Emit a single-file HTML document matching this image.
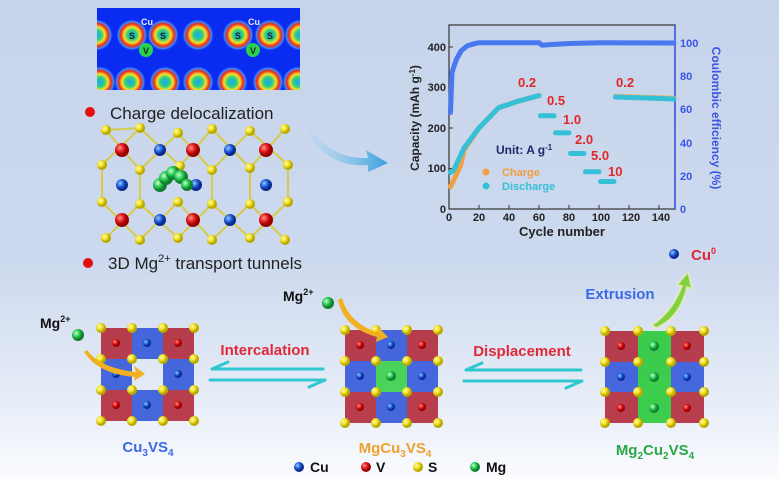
<!DOCTYPE html>
<html><head><meta charset="utf-8"><style>
html,body{margin:0;padding:0}
body{width:779px;height:479px;overflow:hidden;background:linear-gradient(180deg,#c6d4eb 0%,#cdd9ee 55%,#e8eef8 85%,#fbfcfe 100%);font-family:"Liberation Sans",sans-serif}
svg{position:absolute;left:0;top:0}
</style></head><body>
<svg width="779" height="479" viewBox="0 0 779 479" xmlns="http://www.w3.org/2000/svg" font-family="Liberation Sans, sans-serif">
<defs>
<radialGradient id="hot"><stop offset="0" stop-color="#1fa0ff"/><stop offset="0.3" stop-color="#2cd07a"/><stop offset="0.5" stop-color="#f5e02a"/><stop offset="0.7" stop-color="#f02818"/><stop offset="0.85" stop-color="#3a8cff"/><stop offset="1" stop-color="#0a2cf0" stop-opacity="0"/></radialGradient>
<radialGradient id="bY" cx="0.35" cy="0.35"><stop offset="0" stop-color="#fffbb0"/><stop offset="0.6" stop-color="#f2e020"/><stop offset="1" stop-color="#b8a800"/></radialGradient>
<radialGradient id="bR" cx="0.35" cy="0.35"><stop offset="0" stop-color="#ff9090"/><stop offset="0.6" stop-color="#e01818"/><stop offset="1" stop-color="#900"/></radialGradient>
<radialGradient id="bB" cx="0.35" cy="0.35"><stop offset="0" stop-color="#9ac8ff"/><stop offset="0.6" stop-color="#1e5fd8"/><stop offset="1" stop-color="#0a2a90"/></radialGradient>
<radialGradient id="bG" cx="0.35" cy="0.35"><stop offset="0" stop-color="#c8ffd0"/><stop offset="0.6" stop-color="#28c850"/><stop offset="1" stop-color="#108030"/></radialGradient>
<linearGradient id="arr" x1="0" x2="1"><stop offset="0" stop-color="#a8d8f0" stop-opacity="0.3"/><stop offset="1" stop-color="#3a9ee0"/></linearGradient>
<clipPath id="hm"><rect x="97" y="8" width="203" height="82"/></clipPath>
</defs>

<!-- heatmap -->
<g clip-path="url(#hm)">
<rect x="97" y="8" width="203" height="82" fill="#0a2cf0"/>
<g fill="url(#hot)">
<circle cx="97" cy="35" r="16"/><circle cx="132" cy="35" r="16"/><circle cx="163" cy="35" r="16"/><circle cx="198" cy="35" r="16"/><circle cx="238" cy="35" r="16"/><circle cx="270" cy="35" r="16"/><circle cx="300" cy="35" r="16"/>
<circle cx="100" cy="82" r="16"/><circle cx="130" cy="82" r="16"/><circle cx="165" cy="82" r="16"/><circle cx="198" cy="82" r="16"/><circle cx="232" cy="82" r="16"/><circle cx="268" cy="82" r="16"/><circle cx="298" cy="82" r="16"/>
</g>
</g>
<circle cx="146" cy="50" r="7" fill="#2cd050"/><circle cx="253" cy="50" r="7" fill="#2cd050"/>
<g font-size="9" font-weight="bold" fill="#0a2a10" text-anchor="middle">
<text x="132" y="39">S</text><text x="163" y="39">S</text><text x="146" y="54">V</text>
<text x="238" y="39">S</text><text x="270" y="39">S</text><text x="253" y="54">V</text>
</g>
<g font-size="9" font-weight="bold" fill="#e8f0ff" text-anchor="middle"><text x="147" y="25">Cu</text><text x="254" y="25">Cu</text></g>

<circle cx="90" cy="112" r="5" fill="#e41010"/>
<text x="110" y="119" font-size="17" fill="#222">Charge delocalization</text>

<!-- crystal structure -->
<g stroke="#d8c820" stroke-width="2" opacity="0.8" fill="none">
<path d="M106 130 L140 170 L178 133 L212 170 L250 131 L288 165 M106 130 L140 128 M102 165 L140 128 L180 166 L212 129 L250 168 L285 129 M102 202 L140 240 L178 202 L212 240 L250 204 L285 240 M106 238 L140 204 L178 238 L212 204 L250 238 L288 202 M102 165 L102 202 M288 165 L288 202 M140 170 L140 204 M212 170 L212 204 M250 168 L250 204"/>
</g>
<g fill="url(#bY)">
<circle cx="106" cy="130" r="5"/><circle cx="140" cy="128" r="5"/><circle cx="178" cy="133" r="5"/><circle cx="212" cy="129" r="5"/><circle cx="250" cy="131" r="5"/><circle cx="285" cy="129" r="5"/>
<circle cx="102" cy="165" r="5"/><circle cx="140" cy="170" r="5"/><circle cx="180" cy="166" r="5"/><circle cx="212" cy="170" r="5"/><circle cx="250" cy="168" r="5"/><circle cx="288" cy="165" r="5"/>
<circle cx="102" cy="202" r="5"/><circle cx="140" cy="204" r="5"/><circle cx="178" cy="202" r="5"/><circle cx="212" cy="204" r="5"/><circle cx="250" cy="204" r="5"/><circle cx="288" cy="202" r="5"/>
<circle cx="106" cy="238" r="5"/><circle cx="140" cy="240" r="5"/><circle cx="178" cy="238" r="5"/><circle cx="212" cy="240" r="5"/><circle cx="250" cy="238" r="5"/><circle cx="285" cy="240" r="5"/>
</g>
<g fill="url(#bR)"><circle cx="122" cy="150" r="7"/><circle cx="193" cy="150" r="7"/><circle cx="266" cy="150" r="7"/><circle cx="122" cy="220" r="7"/><circle cx="193" cy="220" r="7"/><circle cx="266" cy="220" r="7"/></g>
<g fill="url(#bB)"><circle cx="160" cy="150" r="6"/><circle cx="230" cy="150" r="6"/><circle cx="122" cy="185" r="6"/><circle cx="196" cy="185" r="6"/><circle cx="266" cy="185" r="6"/><circle cx="160" cy="220" r="6"/><circle cx="230" cy="220" r="6"/></g>
<g fill="url(#bG)"><circle cx="160" cy="185" r="7"/><circle cx="166" cy="178" r="7"/><circle cx="173" cy="173" r="7"/><circle cx="181" cy="177" r="7"/><circle cx="187" cy="185" r="6"/></g>

<circle cx="88" cy="263" r="5" fill="#e41010"/>
<text x="108" y="269" font-size="17" fill="#222">3D Mg<tspan font-size="11" dy="-7">2+</tspan><tspan dy="7"> transport tunnels</tspan></text>

<!-- curved arrow -->
<path d="M310 130 Q335 160 368 158 L366 150 L388 163 L368 172 L368 165 Q330 168 308 135 Z" fill="url(#arr)"/>

<!-- chart -->
<g font-weight="bold" font-size="11">
<rect x="449" y="25" width="226" height="184" fill="none" stroke="#333" stroke-width="1.2"/>
<line x1="675" y1="25" x2="675" y2="209" stroke="#3b55e6" stroke-width="1.5"/>
<g stroke="#333" stroke-width="1">
<line x1="449" y1="209" x2="453" y2="209"/><line x1="449" y1="168.5" x2="453" y2="168.5"/><line x1="449" y1="128" x2="453" y2="128"/><line x1="449" y1="87.5" x2="453" y2="87.5"/><line x1="449" y1="47" x2="453" y2="47"/>
<line x1="479" y1="209" x2="479" y2="205"/><line x1="509" y1="209" x2="509" y2="205"/><line x1="539" y1="209" x2="539" y2="205"/><line x1="569" y1="209" x2="569" y2="205"/><line x1="599" y1="209" x2="599" y2="205"/><line x1="629" y1="209" x2="629" y2="205"/><line x1="659" y1="209" x2="659" y2="205"/>
</g>
<g text-anchor="end" fill="#222"><text x="446" y="213">0</text><text x="446" y="172">100</text><text x="446" y="132">200</text><text x="446" y="91">300</text><text x="446" y="51">400</text></g>
<g text-anchor="middle" fill="#222"><text x="449" y="221">0</text><text x="479" y="221">20</text><text x="509" y="221">40</text><text x="539" y="221">60</text><text x="569" y="221">80</text><text x="601" y="221">100</text><text x="631" y="221">120</text><text x="661" y="221">140</text></g>
<g fill="#3b55e6"><text x="680" y="213">0</text><text x="680" y="180">20</text><text x="680" y="147">40</text><text x="680" y="113">60</text><text x="680" y="80">80</text><text x="680" y="47">100</text></g>
<text x="562" y="236" text-anchor="middle" font-size="13" fill="#222">Cycle number</text>
<text transform="translate(419,118) rotate(-90)" text-anchor="middle" font-size="12" fill="#222">Capacity (mAh g<tspan font-size="8" dy="-4">-1</tspan><tspan dy="4">)</tspan></text>
<text transform="translate(712,118) rotate(90)" text-anchor="middle" font-size="12" fill="#3b55e6">Coulombic efficiency (%)</text>
</g>
<g fill="none" stroke-linecap="round" stroke-linejoin="round" stroke-width="5">
<polyline stroke="#4a78f0" points="450.5,112.5 452,72.6 453.5,67.6 456.5,59.3 461,51 467,46 473,44 479,42.7 539,42.7 542,45.2 548,44.8 554,44.4 570,43.5 600,42.7 674,43"/>
<polyline stroke="#f0a040" points="450.5,186.7 453.5,180.6 461,164.4 464,150 479,128 498.5,107.8 516.5,101.7 539,95.6"/>
<polyline stroke="#36c0d8" points="450.5,172.5 453.5,170.5 464,148 479,128 498.5,107.8 516.5,101.7 539,95.6"/>
<polyline stroke="#36c0d8" points="540.5,115.8 554,115.8"/>
<polyline stroke="#36c0d8" points="555.5,132.9 569,132.9"/>
<polyline stroke="#36c0d8" points="570.5,153.5 584,153.5"/>
<polyline stroke="#36c0d8" points="585.5,171.7 599,171.7"/>
<polyline stroke="#36c0d8" points="600.5,181.5 614,181.5"/>
<polyline stroke="#e8b060" stroke-width="4" points="615.5,95.8 674,97.8"/>
<polyline stroke="#36c0d8" points="615.5,97 674,99"/>
</g>
<g font-weight="bold" font-size="13" fill="#e02828">
<text x="518" y="87">0.2</text><text x="547" y="105">0.5</text><text x="563" y="124">1.0</text><text x="575" y="144">2.0</text><text x="591" y="160">5.0</text><text x="608" y="176">10</text><text x="616" y="87">0.2</text>
</g>
<text x="496" y="154" font-weight="bold" font-size="12" fill="#1a2a6a">Unit: A g<tspan font-size="8" dy="-4">-1</tspan></text>
<circle cx="486" cy="172" r="3.5" fill="#f0a040"/><text x="502" y="176" font-weight="bold" font-size="11" fill="#f0a040">Charge</text>
<circle cx="486" cy="186" r="3.5" fill="#36c0d8"/><text x="502" y="190" font-weight="bold" font-size="11" fill="#36c0d8">Discharge</text>

<!-- bottom: squares -->
<g opacity="0.85">
<rect x="101" y="328" width="31" height="31" fill="#b02030"/><rect x="132" y="328" width="31" height="31" fill="#2a50d8"/><rect x="163" y="328" width="31" height="31" fill="#b02030"/>
<rect x="101" y="359" width="31" height="31" fill="#2a50d8"/><rect x="163" y="359" width="31" height="31" fill="#2a50d8"/>
<rect x="101" y="390" width="31" height="31" fill="#b02030"/><rect x="132" y="390" width="31" height="31" fill="#2a50d8"/><rect x="163" y="390" width="31" height="31" fill="#b02030"/>

<rect x="345" y="330" width="31" height="31" fill="#b02030"/><rect x="376" y="330" width="31" height="31" fill="#2a50d8"/><rect x="407" y="330" width="31" height="31" fill="#b02030"/>
<rect x="345" y="361" width="31" height="31" fill="#2a50d8"/><rect x="376" y="361" width="31" height="31" fill="#30d040"/><rect x="407" y="361" width="31" height="31" fill="#2a50d8"/>
<rect x="345" y="392" width="31" height="31" fill="#b02030"/><rect x="376" y="392" width="31" height="31" fill="#2a50d8"/><rect x="407" y="392" width="31" height="31" fill="#b02030"/>

<rect x="605" y="331" width="33" height="31" fill="#b02030"/><rect x="638" y="331" width="33" height="92" fill="#20c830"/><rect x="671" y="331" width="33" height="31" fill="#b02030"/>
<rect x="605" y="362" width="33" height="30" fill="#2a50d8"/><rect x="671" y="362" width="33" height="30" fill="#2a50d8"/>
<rect x="605" y="392" width="33" height="31" fill="#b02030"/><rect x="671" y="392" width="33" height="31" fill="#b02030"/>
</g>
<g fill="url(#bR)"><circle cx="116" cy="343" r="4"/><circle cx="178" cy="343" r="4"/><circle cx="116" cy="405" r="4"/><circle cx="178" cy="405" r="4"/>
<circle cx="360" cy="345" r="4"/><circle cx="422" cy="345" r="4"/><circle cx="360" cy="407" r="4"/><circle cx="422" cy="407" r="4"/>
<circle cx="621" cy="346" r="4"/><circle cx="687" cy="346" r="4"/><circle cx="621" cy="408" r="4"/><circle cx="687" cy="408" r="4"/></g>
<g fill="url(#bB)"><circle cx="147" cy="343" r="4"/><circle cx="116" cy="374" r="4"/><circle cx="178" cy="374" r="4"/><circle cx="147" cy="405" r="4"/>
<circle cx="391" cy="345" r="4"/><circle cx="360" cy="376" r="4"/><circle cx="422" cy="376" r="4"/><circle cx="391" cy="407" r="4"/>
<circle cx="621" cy="377" r="4"/><circle cx="687" cy="377" r="4"/></g>
<g fill="url(#bG)"><circle cx="391" cy="376" r="5"/><circle cx="654" cy="346" r="5"/><circle cx="654" cy="377" r="5"/><circle cx="654" cy="408" r="5"/></g>
<g fill="url(#bY)">
<circle cx="101" cy="328" r="5"/><circle cx="132" cy="328" r="5"/><circle cx="163" cy="328" r="5"/><circle cx="194" cy="328" r="5"/>
<circle cx="101" cy="359" r="5"/><circle cx="132" cy="359" r="5"/><circle cx="163" cy="359" r="5"/><circle cx="194" cy="359" r="5"/>
<circle cx="101" cy="390" r="5"/><circle cx="132" cy="390" r="5"/><circle cx="163" cy="390" r="5"/><circle cx="194" cy="390" r="5"/>
<circle cx="101" cy="421" r="5"/><circle cx="132" cy="421" r="5"/><circle cx="163" cy="421" r="5"/><circle cx="194" cy="421" r="5"/>
<circle cx="345" cy="330" r="5"/><circle cx="376" cy="330" r="5"/><circle cx="407" cy="330" r="5"/><circle cx="438" cy="330" r="5"/>
<circle cx="345" cy="361" r="5"/><circle cx="376" cy="361" r="5"/><circle cx="407" cy="361" r="5"/><circle cx="438" cy="361" r="5"/>
<circle cx="345" cy="392" r="5"/><circle cx="376" cy="392" r="5"/><circle cx="407" cy="392" r="5"/><circle cx="438" cy="392" r="5"/>
<circle cx="345" cy="423" r="5"/><circle cx="376" cy="423" r="5"/><circle cx="407" cy="423" r="5"/><circle cx="438" cy="423" r="5"/>
<circle cx="605" cy="331" r="5"/><circle cx="638" cy="331" r="5"/><circle cx="671" cy="331" r="5"/><circle cx="704" cy="331" r="5"/>
<circle cx="605" cy="362" r="5"/><circle cx="638" cy="362" r="5"/><circle cx="671" cy="362" r="5"/><circle cx="704" cy="362" r="5"/>
<circle cx="605" cy="392" r="5"/><circle cx="638" cy="392" r="5"/><circle cx="671" cy="392" r="5"/><circle cx="704" cy="392" r="5"/>
<circle cx="605" cy="423" r="5"/><circle cx="638" cy="423" r="5"/><circle cx="671" cy="423" r="5"/><circle cx="704" cy="423" r="5"/>
</g>

<!-- Mg2+ ions and yellow arrows -->
<text x="40" y="328" font-weight="bold" font-size="14" fill="#111">Mg<tspan font-size="9" dy="-6">2+</tspan></text>
<circle cx="78" cy="335" r="6" fill="url(#bG)"/>
<path d="M87 350 Q100 368 136 372 L134 366 L145 374 L134 381 L135 377 Q98 374 84 352 Z" fill="#f0b020"/>
<text x="283" y="301" font-weight="bold" font-size="14" fill="#111">Mg<tspan font-size="9" dy="-6">2+</tspan></text>
<circle cx="328" cy="303" r="6" fill="url(#bG)"/>
<path d="M342 298 Q348 322 378 333 L378 327 L388 337 L376 342 L377 337 Q344 328 338 300 Z" fill="#f0b020"/>

<!-- double arrows -->
<g stroke="#30c8d0" stroke-width="3" fill="none" stroke-linecap="round">
<path d="M212 369 L323 369 M212 369 L228 362"/><path d="M210 380 L325 380 M325 380 L309 387"/>
<path d="M466 370 L581 370 M466 370 L482 363"/><path d="M464 381 L582 381 M582 381 L566 388"/>
</g>
<text x="265" y="355" text-anchor="middle" font-weight="bold" font-size="15" fill="#e02838">Intercalation</text>
<text x="522" y="356" text-anchor="middle" font-weight="bold" font-size="15" fill="#e02838">Displacement</text>
<text x="620" y="299" text-anchor="middle" font-weight="bold" font-size="15" fill="#3a6ae8">Extrusion</text>

<!-- extrusion arrow -->
<path d="M652 325 Q672 312 682 286 L677 285 L688 272 L692 289 L687 287 Q680 318 656 328 Z" fill="#80d040" stroke="#f8f4c0" stroke-width="2" stroke-opacity="0.6"/>
<circle cx="674" cy="254" r="5" fill="url(#bB)"/>
<text x="691" y="260" font-weight="bold" font-size="15" fill="#e02838">Cu<tspan font-size="9" dy="-6">0</tspan></text>

<!-- formula labels -->
<text x="148" y="452" text-anchor="middle" font-weight="bold" font-size="15" fill="#3a6ae8">Cu<tspan font-size="10" dy="4">3</tspan><tspan dy="-4">VS</tspan><tspan font-size="10" dy="4">4</tspan></text>
<text x="395" y="453" text-anchor="middle" font-weight="bold" font-size="15" fill="#f0a030">MgCu<tspan font-size="10" dy="4">3</tspan><tspan dy="-4">VS</tspan><tspan font-size="10" dy="4">4</tspan></text>
<text x="655" y="455" text-anchor="middle" font-weight="bold" font-size="15" fill="#28a848">Mg<tspan font-size="10" dy="4">2</tspan><tspan dy="-4">Cu</tspan><tspan font-size="10" dy="4">2</tspan><tspan dy="-4">VS</tspan><tspan font-size="10" dy="4">4</tspan></text>

<!-- legend -->
<circle cx="299" cy="467" r="5" fill="url(#bB)"/><text x="310" y="472" font-weight="bold" font-size="14" fill="#111">Cu</text>
<circle cx="366" cy="467" r="5" fill="url(#bR)"/><text x="376" y="472" font-weight="bold" font-size="14" fill="#111">V</text>
<circle cx="418" cy="467" r="5" fill="url(#bY)"/><text x="428" y="472" font-weight="bold" font-size="14" fill="#111">S</text>
<circle cx="475" cy="467" r="5" fill="url(#bG)"/><text x="486" y="472" font-weight="bold" font-size="14" fill="#111">Mg</text>
</svg>
</body></html>
